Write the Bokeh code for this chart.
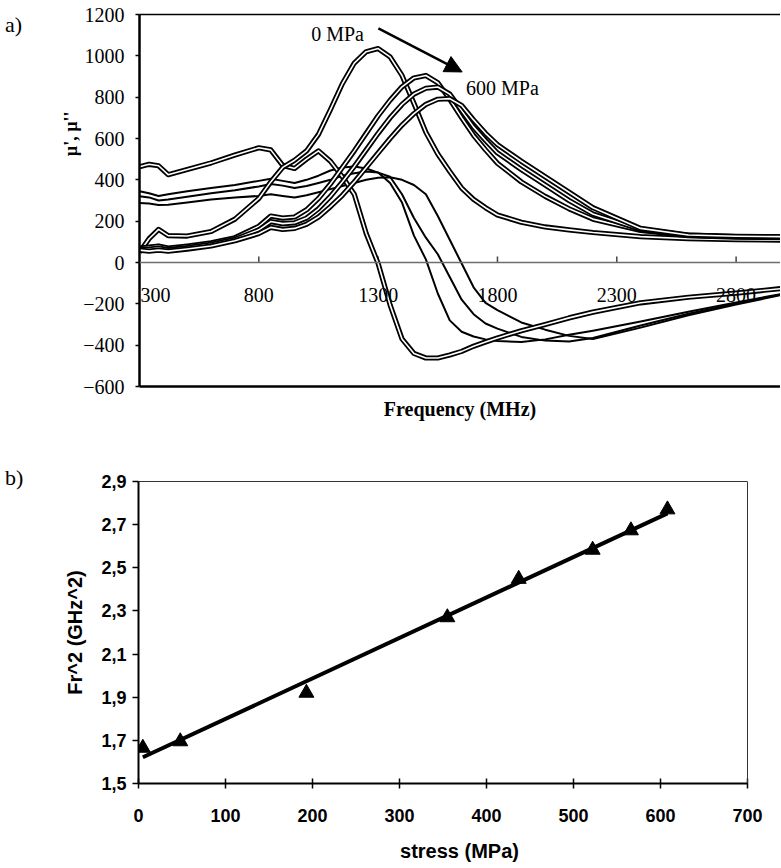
import numpy as np
from bokeh.plotting import figure
from bokeh.models import (LinearAxis, FixedTicker, Range1d, Label, Arrow, NormalHead,
                          Span, CustomJSTickFormatter, Title, Div)
from bokeh.layouts import column, row
from bokeh.embed import file_html
from bokeh.resources import INLINE

# ---------------- panel a data ----------------
freq = [300, 340, 380, 420, 500, 600, 700, 800, 850, 900, 950, 1000, 1050, 1100, 1150, 1200,
        1250, 1300, 1350, 1400, 1450, 1500, 1550, 1600, 1650, 1700, 1750, 1800, 1900, 2000,
        2100, 2200, 2400, 2600, 2800, 3000]

# mu'' (imaginary part), stress increasing from s0 (0 MPa) to s3 (600 MPa)
mu2_s0 = [50, 115, 160, 130, 128, 150, 210, 310, 390, 460, 495, 540, 620, 740, 865, 965,
          1020, 1035, 995, 905, 770, 630, 525, 440, 360, 305, 265, 230, 195, 172,
          158, 145, 125, 115, 110, 108]
mu2_s1 = [70, 75, 80, 70, 80, 95, 120, 175, 225, 215, 220, 255, 310, 380, 460, 540,
          625, 710, 785, 850, 893, 905, 870, 790, 700, 615, 545, 480, 390, 320,
          260, 210, 155, 130, 123, 120]
mu2_s2 = [65, 65, 70, 62, 72, 88, 112, 158, 198, 188, 192, 215, 260, 320, 390, 465,
          545, 625, 700, 765, 815, 843, 849, 815, 735, 655, 590, 530, 450, 375,
          300, 235, 160, 132, 125, 122]
mu2_s3 = [60, 55, 60, 55, 65, 80, 105, 140, 170, 160, 165, 185, 220, 270, 325, 390,
          460, 530, 600, 665, 720, 765, 790, 793, 760, 690, 625, 570, 490, 415,
          340, 265, 165, 133, 127, 125]

# mu' (real part)
mu1_s0 = [463, 475, 468, 425, 450, 482, 520, 555, 545, 470, 455, 500, 540, 490, 415, 330,
          140, -5, -205, -370, -440, -462, -462, -448, -430, -405, -385, -365, -330, -300,
          -268, -240, -195, -168, -148, -125]
mu1_s1 = [345, 335, 322, 330, 345, 360, 375, 395, 405, 395, 385, 400, 420, 445, 460, 465,
          455, 435, 385, 290, 130, 15, -150, -280, -335, -358, -372, -380, -385, -372,
          -350, -330, -285, -238, -193, -150]
mu1_s2 = [320, 315, 300, 305, 318, 335, 350, 368, 380, 372, 360, 370, 385, 400, 420, 432,
          440, 435, 415, 330, 215, 120, 40, -70, -180, -250, -295, -320, -360, -378,
          -382, -365, -305, -248, -198, -152]
mu1_s3 = [288, 285, 278, 280, 290, 305, 315, 322, 330, 322, 315, 325, 340, 355, 370, 385,
          400, 410, 412, 400, 375, 330, 225, 110, -5, -120, -195, -230, -290, -325,
          -355, -370, -315, -255, -203, -155]

xticks_a = [300, 800, 1300, 1800, 2300, 2800]
yticks_a = [-600, -400, -200, 0, 200, 400, 600, 800, 1000, 1200]

# ---------------- panel b data ----------------
stress = [5, 48, 193, 355, 437, 522, 566, 608]
fr2 = [1.665, 1.695, 1.92, 2.27, 2.448, 2.583, 2.673, 2.77]
xticks_b = [0, 100, 200, 300, 400, 500, 600, 700]
yticks_b = [1.5, 1.7, 1.9, 2.1, 2.3, 2.5, 2.7, 2.9]

SERIF = "Liberation Serif"
SANS = "Liberation Sans"
DIV_W = 30


def blank_axis(width, color="black", bounds=None):
    ax = LinearAxis(ticker=FixedTicker(ticks=[]))
    ax.axis_line_width = width
    ax.axis_line_color = color
    ax.major_tick_out = 0
    ax.major_tick_in = 0
    ax.minor_tick_out = 0
    ax.minor_tick_in = 0
    ax.major_label_text_font_size = "0px"
    ax.major_label_standoff = 0
    if bounds is not None:
        ax.bounds = bounds
    return ax


def panel_tag(text, pad_top, height):
    return Div(text=text, width=DIV_W, height=height, margin=0,
               styles={"font-family": SERIF, "font-size": "22px", "line-height": "22px",
                       "padding": f"{pad_top}px 0px 0px 5px", "margin": "0px",
                       "box-sizing": "border-box", "color": "black"})


# ================= panel a =================
A_W, A_H = 750, 422
A_LEFT, A_TOP, A_BOTTOM = 109, 14, 35
A_X0, A_X1, A_Y0, A_Y1 = 300, 2986, -600, 1200
pa = figure(width=A_W, height=A_H, output_backend="svg", toolbar_location=None,
            x_range=Range1d(A_X0, A_X1), y_range=Range1d(A_Y0, A_Y1),
            x_axis_location=None, y_axis_location=None,
            min_border_left=A_LEFT, min_border_right=0, min_border_top=A_TOP,
            min_border_bottom=A_BOTTOM)
pa.outline_line_color = None
pa.grid.visible = False

fh = A_H - A_TOP - A_BOTTOM
def ay_px(dy):  # vertical pixel offset above frame bottom -> data y
    return A_Y0 + dy * (A_Y1 - A_Y0) / fh

ya = LinearAxis(ticker=FixedTicker(ticks=yticks_a))
ya.axis_line_width = 2.5
ya.axis_line_color = "black"
ya.major_tick_out = 4
ya.major_tick_in = 0
ya.major_tick_line_width = 1.5
ya.minor_tick_out = 0
ya.minor_tick_in = 0
ya.major_label_standoff = 11
ya.major_label_text_font = SERIF
ya.major_label_text_font_size = "20px"
ya.major_label_text_color = "black"
pa.add_layout(ya, "left")

# y label sits in the upper part of the left margin (offset measured from the frame top)
pa.add_layout(Title(text="\u00b5', \u00b5''", align="right", offset=97, standoff=0,
                    text_font=SERIF, text_font_size="18px", text_font_style="bold",
                    text_color="black"), "left")

xb = blank_axis(2.5)
xb.axis_label = "Frequency (MHz)"
xb.axis_label_text_font = SERIF
xb.axis_label_text_font_size = "20px"
xb.axis_label_text_font_style = "bold"
xb.axis_label_text_color = "black"
xb.axis_label_standoff = 11
pa.add_layout(xb, "below")
pa.add_layout(blank_axis(1.5), "above")

pa.add_layout(Span(location=0, dimension="width", line_color="#6e6e6e", line_width=1.5))
pa.ray(x=xticks_a[1:], y=0, length=6, length_units="screen", angle=np.pi / 2,
       line_color="#444444", line_width=1.5)

# x tick labels sit below the zero line (Excel "axis crosses at 0")
zero_px = fh * (0 - A_Y0) / (A_Y1 - A_Y0)
for i, t in enumerate(xticks_a):
    pa.add_layout(Label(x=t, y=ay_px(zero_px - 33), text=str(t), text_font=SERIF,
                        text_font_size="20px", text_align="left" if i == 0 else "center",
                        x_offset=1 if i == 0 else 0,
                        text_baseline="middle", text_color="black"))

# thin mu' curves for the stressed states
for ys in (mu1_s1, mu1_s2, mu1_s3):
    pa.line(freq, ys, line_color="black", line_width=2, line_join="round")
# thick (outlined) curves: mu'' for all states and mu' at 0 MPa
for ys in (mu1_s0, mu2_s0, mu2_s1, mu2_s2, mu2_s3):
    pa.line(freq, ys, line_color="black", line_width=5.2, line_join="round")
    pa.line(freq, ys, line_color="white", line_width=1.6, line_join="round")

pa.add_layout(Arrow(end=NormalHead(size=17, fill_color="black", line_color="black"),
                    x_start=1301, y_start=1133, x_end=1652, y_end=922,
                    line_width=2.5, line_color="black"))
pa.add_layout(Label(x=1130, y=1104, text="0 MPa", text_font=SERIF, text_font_size="20px",
                    text_align="center", text_baseline="middle", text_color="black"))
pa.add_layout(Label(x=1821, y=843, text="600 MPa", text_font=SERIF, text_font_size="20px",
                    text_align="center", text_baseline="middle", text_color="black"))

div_a = panel_tag("a)", 14, 60)

# ================= panel b =================
B_W, B_H = 750, 446
B_LEFT, B_TOP, B_BOTTOM = 108, 59, 85
B_FRAME_PX_700 = 609          # pixel width of the 0..700 MPa span
B_X0, B_Y0, B_Y1 = 0, 1.5, 2.9
B_XMAX = 700
b_fw = B_W - B_LEFT
B_X1 = B_X0 + (B_XMAX - B_X0) * b_fw / B_FRAME_PX_700
pb = figure(width=B_W, height=B_H, output_backend="svg", toolbar_location=None,
            x_range=Range1d(B_X0, B_X1), y_range=Range1d(B_Y0, B_Y1),
            min_border_left=B_LEFT, min_border_right=0, min_border_top=B_TOP,
            min_border_bottom=B_BOTTOM)
pb.grid.visible = False
pb.outline_line_color = None

pb.xaxis.ticker = FixedTicker(ticks=xticks_b)
pb.xaxis.bounds = (B_X0, B_XMAX)
pb.yaxis.ticker = FixedTicker(ticks=yticks_b)
pb.yaxis.formatter = CustomJSTickFormatter(code="return tick.toFixed(1).replace('.', ',');")
for ax in (pb.xaxis[0], pb.yaxis[0]):
    ax.axis_line_width = 2
    ax.axis_line_color = "black"
    ax.major_tick_line_width = 1.5
    ax.minor_tick_out = 0
    ax.minor_tick_in = 0
    ax.major_label_text_font = SANS
    ax.major_label_text_font_size = "18px"
    ax.major_label_text_font_style = "bold"
    ax.major_label_text_color = "black"
    ax.axis_label_text_font = SANS
    ax.axis_label_text_font_size = "20px"
    ax.axis_label_text_font_style = "bold"
    ax.axis_label_text_color = "black"
pb.xaxis.major_tick_in = 5
pb.xaxis.major_tick_out = 5
pb.xaxis.major_label_standoff = 20
pb.xaxis.axis_label = "stress (MPa)"
pb.xaxis.axis_label_standoff = 15
pb.yaxis.major_tick_in = 0
pb.yaxis.major_tick_out = 6
pb.yaxis.major_label_standoff = 6
pb.yaxis.axis_label = "Fr^2 (GHz^2)"
pb.yaxis.axis_label_standoff = 12

pb.add_layout(blank_axis(1, "#333333", bounds=(B_X0, B_XMAX)), "above")
pb.add_layout(Span(location=B_XMAX, dimension="height", line_color="#333333", line_width=1))

coef = np.polyfit(stress, fr2, 1)
fit_x = [min(stress), max(stress)]
fit_y = list(np.polyval(coef, fit_x))
pb.line(fit_x, fit_y, line_color="black", line_width=4)
pb.scatter(stress, fr2, marker="triangle", size=15, fill_color="black", line_color="black")

div_b = panel_tag("b)", 45, 90)

layout = column(row(div_a, pa), row(div_b, pb))
open("out.html", "w").write(file_html(layout, INLINE))
